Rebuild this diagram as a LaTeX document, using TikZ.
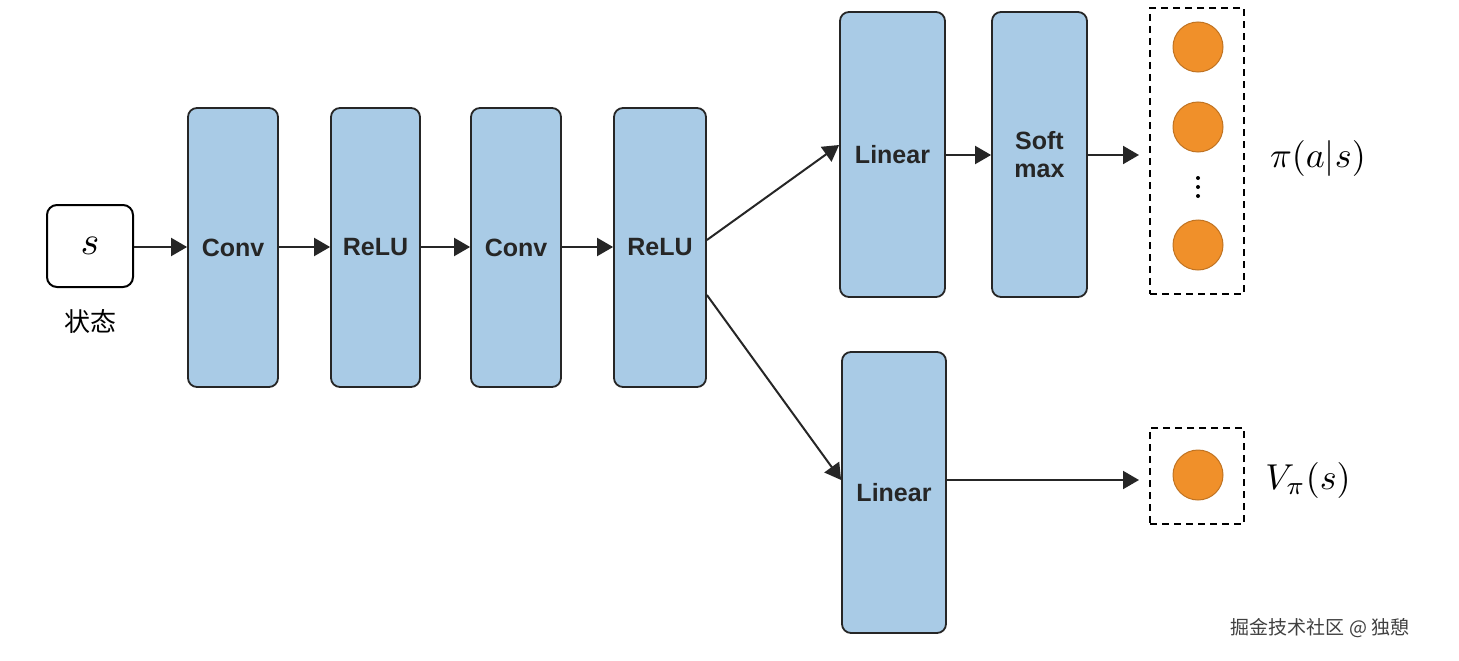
\documentclass[tikz,border=0pt]{standalone}
\usepackage{fontspec}
\setmainfont{Liberation Sans}
\newfontfamily\cjk{Noto Sans CJK SC}
\usetikzlibrary{arrows.meta}
\definecolor{blk}{HTML}{A9CBE6}
\definecolor{org}{HTML}{F0902A}
\begin{document}
\begin{tikzpicture}[x=1pt,y=-1pt,
  layer/.style={draw=black!85,line width=1.8pt,fill=blk,rounded corners=9pt,font=\fontsize{25}{28}\selectfont\bfseries,text=black!85,align=center,inner sep=0pt},
  arr/.style={draw=black!85,line width=2pt,-{Triangle[length=16pt,width=18pt]}},
  dbox/.style={draw=black,line width=2pt,dash pattern=on 7pt off 5pt},
  dot/.style={circle,fill=org,draw=org!80!black,line width=1pt,minimum size=50pt,inner sep=0pt},
  sdot/.style={circle,fill=black,inner sep=0pt,minimum size=4pt}]
\useasboundingbox (0,0) rectangle (1459,661);
\node[draw=black,line width=2pt,rounded corners=10pt,minimum width=86pt,minimum height=82pt,fill=white] (s) at (90,246) {\scalebox{4}{$s$}};
\node[font=\cjk\fontsize{26}{28}\selectfont] (lab) at (90,322) {状态};
\node[layer,minimum width=90pt,minimum height=279pt] (c1) at (233,247.5) {Conv};
\node[layer,minimum width=89pt,minimum height=279pt] (r1) at (375.5,247.5) {ReLU};
\node[layer,minimum width=90pt,minimum height=279pt] (c2) at (516,247.5) {Conv};
\node[layer,minimum width=92pt,minimum height=279pt] (r2) at (660,247.5) {ReLU};
\node[layer,minimum width=105pt,minimum height=285pt] (l1) at (892.5,154.5) {Linear};
\node[layer,minimum width=95pt,minimum height=285pt] (sm) at (1039.5,154.5) {Soft\\max};
\node[layer,minimum width=104pt,minimum height=281pt] (l2) at (894,492.5) {Linear};
\node[dbox,minimum width=94pt,minimum height=286pt,inner sep=0pt] (d1) at (1197,151) {};
\node[dbox,minimum width=94pt,minimum height=96pt,inner sep=0pt] (d2) at (1197,476) {};
\node[dot] (o1) at (1198,47) {};
\node[dot] (o2) at (1198,127) {};
\node[dot] (o3) at (1198,245) {};
\node[dot] (o4) at (1198,475) {};
\node[sdot] (v1) at (1198,178) {};
\node[sdot] (v2) at (1198,187) {};
\node[sdot] (v3) at (1198,196) {};
\node (pi) at (1318,158) {\scalebox{3.6}{$\pi(a|s)$}};
\node (vp) at (1308,480) {\scalebox{3.6}{$V_\pi(s)$}};
\node[font=\cjk\fontsize{19}{20}\selectfont,text=black!75] (wm) at (1320,628) {掘金技术社区 @ 独憩};
\draw[arr] (s.east|-0,247) -- (c1.west|-0,247);
\draw[arr] (c1.east|-0,247) -- (r1.west|-0,247);
\draw[arr] (r1.east|-0,247) -- (c2.west|-0,247);
\draw[arr] (c2.east|-0,247) -- (r2.west|-0,247);
\draw[arr] (r2.east|-0,240) -- (l1.west|-0,145);
\draw[arr] (r2.east|-0,295) -- (l2.west|-0,480);
\draw[arr] (l1.east|-0,155) -- (sm.west|-0,155);
\draw[arr] (sm.east|-0,155) -- ([xshift=-10pt]d1.west|-0,155);
\draw[arr] (l2.east|-0,480) -- ([xshift=-10pt]d2.west|-0,480);
\end{tikzpicture}
\end{document}
